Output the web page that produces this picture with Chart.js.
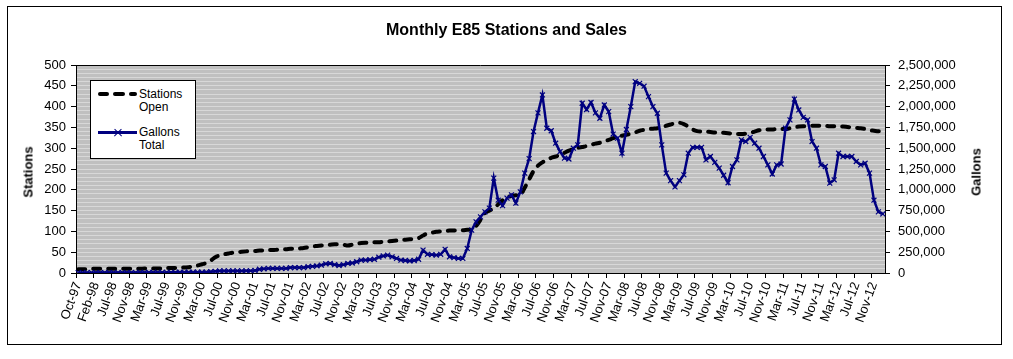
<!DOCTYPE html>
<html><head><meta charset="utf-8">
<script src="https://cdn.jsdelivr.net/npm/chart.js@4.4.1/dist/chart.umd.min.js"></script>
<style>
html,body{margin:0;padding:0;background:#fff;}
#wrap{position:relative;width:1013px;height:359px;overflow:hidden;font-family:"Liberation Sans",Arial,sans-serif;color:#000;}
#frame{position:absolute;left:7px;top:6px;width:995px;height:339px;border:1px solid #000;box-sizing:border-box;}
canvas{position:absolute;left:0;top:0;}
#title{position:absolute;left:0;width:1013px;top:20px;text-align:center;font-weight:bold;font-size:16px;line-height:20px;}
.ytitle{position:absolute;font-weight:bold;font-size:13px;line-height:15px;white-space:nowrap;transform:translate(-50%,-50%) rotate(-90deg);}
#legend{position:absolute;left:90px;top:80px;width:106px;height:79px;background:#fff;border:1px solid #000;box-sizing:border-box;}
.dash{position:absolute;top:92px;height:4px;background:#000;border-radius:2px;}
.ltxt{position:absolute;left:139px;font-size:12px;line-height:13px;white-space:nowrap;}
.gline{position:absolute;left:98px;width:39px;top:131px;height:3px;background:#000080;}
.xm{position:absolute;left:113px;top:131.5px;width:10px;height:1.4px;background:#000080;}
</style>
</head>
<body>
<div id="wrap">
  <div id="frame"></div>
  <canvas id="c" width="1013" height="359"></canvas>
  <div id="title">Monthly E85 Stations and Sales</div>
  <div class="ytitle" style="left:28px;top:172px;">Stations</div>
  <div class="ytitle" style="left:976px;top:172px;">Gallons</div>
  <div id="legend"></div>
  <div class="dash" style="left:98px;width:11px;"></div>
  <div class="dash" style="left:113px;width:12px;"></div>
  <div class="dash" style="left:129px;width:8px;"></div>
  <div class="ltxt" style="top:88px;">Stations<br>Open</div>
  <div class="gline"></div>
  <div class="xm" style="transform:rotate(45deg);"></div>
  <div class="xm" style="transform:rotate(-45deg);"></div>
  <div class="ltxt" style="top:126px;">Gallons<br>Total</div>
</div>
<script>
const months = [
 'Oct-97','Nov-97','Dec-97','Jan-98','Feb-98','Mar-98','Apr-98','May-98',
 'Jul-98','Aug-98','Sep-98','Oct-98','Nov-98','Dec-98',
 'Jan-99','Feb-99','Mar-99','Apr-99','May-99','Jun-99','Jul-99','Aug-99','Sep-99','Oct-99','Nov-99','Dec-99',
 'Jan-00','Feb-00','Mar-00','Apr-00','May-00','Jun-00','Jul-00','Aug-00','Sep-00','Oct-00','Nov-00','Dec-00',
 'Jan-01','Feb-01','Mar-01','Apr-01','May-01','Jun-01','Jul-01','Aug-01','Sep-01','Oct-01','Nov-01','Dec-01',
 'Jan-02','Feb-02','Mar-02','Apr-02','May-02','Jun-02','Jul-02','Aug-02','Sep-02','Oct-02','Nov-02','Dec-02',
 'Jan-03','Feb-03','Mar-03','Apr-03','May-03','Jun-03','Jul-03','Aug-03','Sep-03','Oct-03','Nov-03','Dec-03',
 'Jan-04','Feb-04','Mar-04','Apr-04','May-04','Jun-04','Jul-04','Aug-04','Sep-04','Oct-04','Nov-04','Dec-04',
 'Jan-05','Feb-05','Mar-05','Apr-05','May-05','Jun-05','Jul-05','Aug-05','Sep-05','Oct-05','Nov-05','Dec-05',
 'Jan-06','Feb-06','Mar-06','Apr-06','May-06','Jun-06','Jul-06','Aug-06','Sep-06','Oct-06','Nov-06','Dec-06',
 'Jan-07','Feb-07','Mar-07','Apr-07','May-07','Jun-07','Jul-07','Aug-07','Sep-07','Oct-07','Nov-07','Dec-07',
 'Jan-08','Feb-08','Mar-08','Apr-08','May-08','Jun-08','Jul-08','Aug-08','Sep-08','Oct-08','Nov-08','Dec-08',
 'Jan-09','Feb-09','Mar-09','Apr-09','May-09','Jun-09','Jul-09','Aug-09','Sep-09','Oct-09','Nov-09','Dec-09',
 'Jan-10','Feb-10','Mar-10','Apr-10','May-10','Jun-10','Jul-10','Aug-10','Sep-10','Oct-10','Nov-10','Dec-10',
 'Jan-11','Feb-11','Mar-11','Apr-11','May-11','Jun-11','Jul-11','Aug-11','Sep-11','Oct-11','Nov-11','Dec-11',
 'Jan-12','Feb-12','Mar-12','Apr-12','May-12','Jun-12','Jul-12','Aug-12','Sep-12','Oct-12','Nov-12','Dec-12',
 'Jan-13'
];

const stationsOpen = [
 9,9,9,10,10,10,10,10,10,10,
 10,10,10,10,10,11,11,11,11,11,12,
 12,12,13,13,14,16,18,21,24,
 30,38,42,45,47,49,50,51,52,53,53,
 54,54,55,55,56,57,57,58,58,59,60,62,
 64,65,66,67,68,69,69,68,66,68,70,
 72,73,73,74,74,75,76,77,78,79,80,81,82,
 84,90,95,97,99,100,101,102,102,103,103,104,
 105,113,128,144,150,155,165,175,182,185,187,188,
 205,225,245,258,266,272,277,280,284,289,294,298,301,303,305,308,311,313,317,320,324,327,330,332,335,338,342,344,346,347,348,351,354,357,360,361,
 358,352,345,341,340,340,339,338,338,337,336,335,334,334,335,337,340,343,345,345,345,346,346,346,348,350,352,353,353,354,354,354,354,353,353,352,352,351,350,349,348,346,343,342,341,341
];

const gallonsTotal = [
 4000,4000,4500,4500,5000,5000,5000,5000,5000,5000,
 5000,5500,5500,5500,6000,6000,6000,6000,6500,6500,7000,
 8000,8500,9000,9000,9500,10000,10000,10500,11000,
 15000,20000,25000,25000,25000,25000,25000,25000,26000,26000,30000,
 45000,50000,55000,55000,55000,55000,55000,65000,65000,65000,65000,
 75000,80000,85000,95000,110000,115000,100000,90000,100000,115000,120000,135000,
 155000,155000,160000,165000,190000,205000,215000,195000,175000,155000,150000,145000,150000,165000,
 275000,225000,220000,215000,225000,285000,195000,185000,175000,175000,295000,
 515000,615000,675000,735000,780000,1140000,875000,810000,900000,940000,840000,
 975000,1200000,1375000,1700000,1925000,2140000,1740000,1710000,1560000,1460000,1380000,1370000,1500000,1540000,
 2040000,1965000,2050000,1925000,1860000,2020000,1940000,1670000,1620000,1440000,1725000,2000000,2300000,2280000,2245000,2120000,2000000,1920000,
 1540000,1200000,1110000,1035000,1110000,1180000,1440000,1510000,1510000,1510000,1360000,1400000,1330000,1260000,1175000,1085000,
 1280000,1360000,1600000,1580000,1630000,1560000,1500000,1400000,1300000,1190000,1300000,1310000,1740000,1840000,2090000,1960000,1870000,1840000,
 1580000,1500000,1300000,1280000,1080000,1120000,1440000,1400000,1400000,1400000,1340000,1300000,1320000,1200000,875000,735000,710000
];

const stationAxis = {min: 0, max: 500, labelStep: 50, gridStep: 10};
const gallonAxis = {min: 0, max: 2500000, step: 250000};
const labelEvery = 4;

Chart.defaults.font.family = "'Liberation Sans', Arial, sans-serif";
Chart.defaults.font.size = 13;
Chart.defaults.color = '#000';

const plotBg = {
  id: 'plotBg',
  beforeDraw(chart) {
    const {ctx, chartArea: a} = chart;
    ctx.save();
    ctx.fillStyle = '#c0c0c0';
    ctx.fillRect(a.left, a.top, a.right - a.left, a.bottom - a.top);
    ctx.restore();
  },
  afterDraw(chart) {
    const {ctx, chartArea: a} = chart;
    ctx.save();
    ctx.strokeStyle = '#000';
    ctx.lineWidth = 1;
    ctx.beginPath();
    ctx.moveTo(a.left, a.top + 0.5);
    ctx.lineTo(a.right, a.top + 0.5);
    ctx.stroke();
    ctx.restore();
  }
};

new Chart(document.getElementById('c'), {
  type: 'line',
  data: {
    labels: months,
    datasets: [
      {
        label: 'Gallons Total',
        data: gallonsTotal,
        yAxisID: 'y1',
        order: 0,
        borderColor: '#000080',
        borderWidth: 2.5,
        tension: 0,
        pointStyle: 'crossRot',
        pointRadius: 3.5,
        pointBorderWidth: 1.2,
        pointBorderColor: '#000080',
        pointBackgroundColor: 'rgba(0,0,0,0)'
      },
      {
        label: 'Stations Open',
        data: stationsOpen,
        yAxisID: 'y',
        order: 1,
        borderColor: '#000',
        borderWidth: 4,
        borderDash: [7, 8],
        borderCapStyle: 'round',
        cubicInterpolationMode: 'monotone',
        pointRadius: 0
      }
    ]
  },
  options: {
    responsive: false,
    animation: false,
    layout: {padding: {top: 65, left: 0, right: 0, bottom: 0}},
    plugins: {legend: {display: false}, title: {display: false}, tooltip: {enabled: false}},
    scales: {
      x: {
        type: 'category',
        offset: true,
        grid: {
          offset: true,
          drawOnChartArea: false,
          tickLength: 5,
          color: c => (c.index % labelEvery === 0 ? '#000' : 'rgba(0,0,0,0)'),
          tickColor: c => (c.index % labelEvery === 0 ? '#000' : 'rgba(0,0,0,0)')
        },
        border: {display: true, color: '#000', width: 1},
        ticks: {
          autoSkip: false, maxRotation: 70, minRotation: 70, padding: 2,
          callback: (v, i) => (i % labelEvery === 0 ? months[i] : '')
        },
        afterFit(s) { s.height = 86; }
      },
      y: {
        position: 'left',
        min: stationAxis.min, max: stationAxis.max,
        ticks: {
          stepSize: stationAxis.gridStep, autoSkip: false, padding: 5,
          callback: v => (v % stationAxis.labelStep === 0 ? v : '')
        },
        grid: {
          tickLength: 5,
          lineWidth: 1,
          color: c => (c.tick && (c.tick.value === stationAxis.min || c.tick.value === stationAxis.max) ? 'rgba(0,0,0,0)' : '#d8d8d8'),
          tickColor: c => (c.tick && c.tick.value % stationAxis.labelStep === 0 ? '#000' : 'rgba(0,0,0,0)')
        },
        border: {display: true, color: '#000', width: 1},
        afterFit(s) { s.width = 76; }
      },
      y1: {
        position: 'right',
        min: gallonAxis.min, max: gallonAxis.max,
        ticks: {
          stepSize: gallonAxis.step, autoSkip: false, padding: 8,
          callback: v => v.toLocaleString('en-US')
        },
        grid: {drawOnChartArea: false, tickLength: 5, tickColor: '#000', color: '#000'},
        border: {display: true, color: '#000', width: 1},
        afterFit(s) { s.width = 128; }
      }
    }
  },
  plugins: [plotBg]
});
</script>
</body></html>
